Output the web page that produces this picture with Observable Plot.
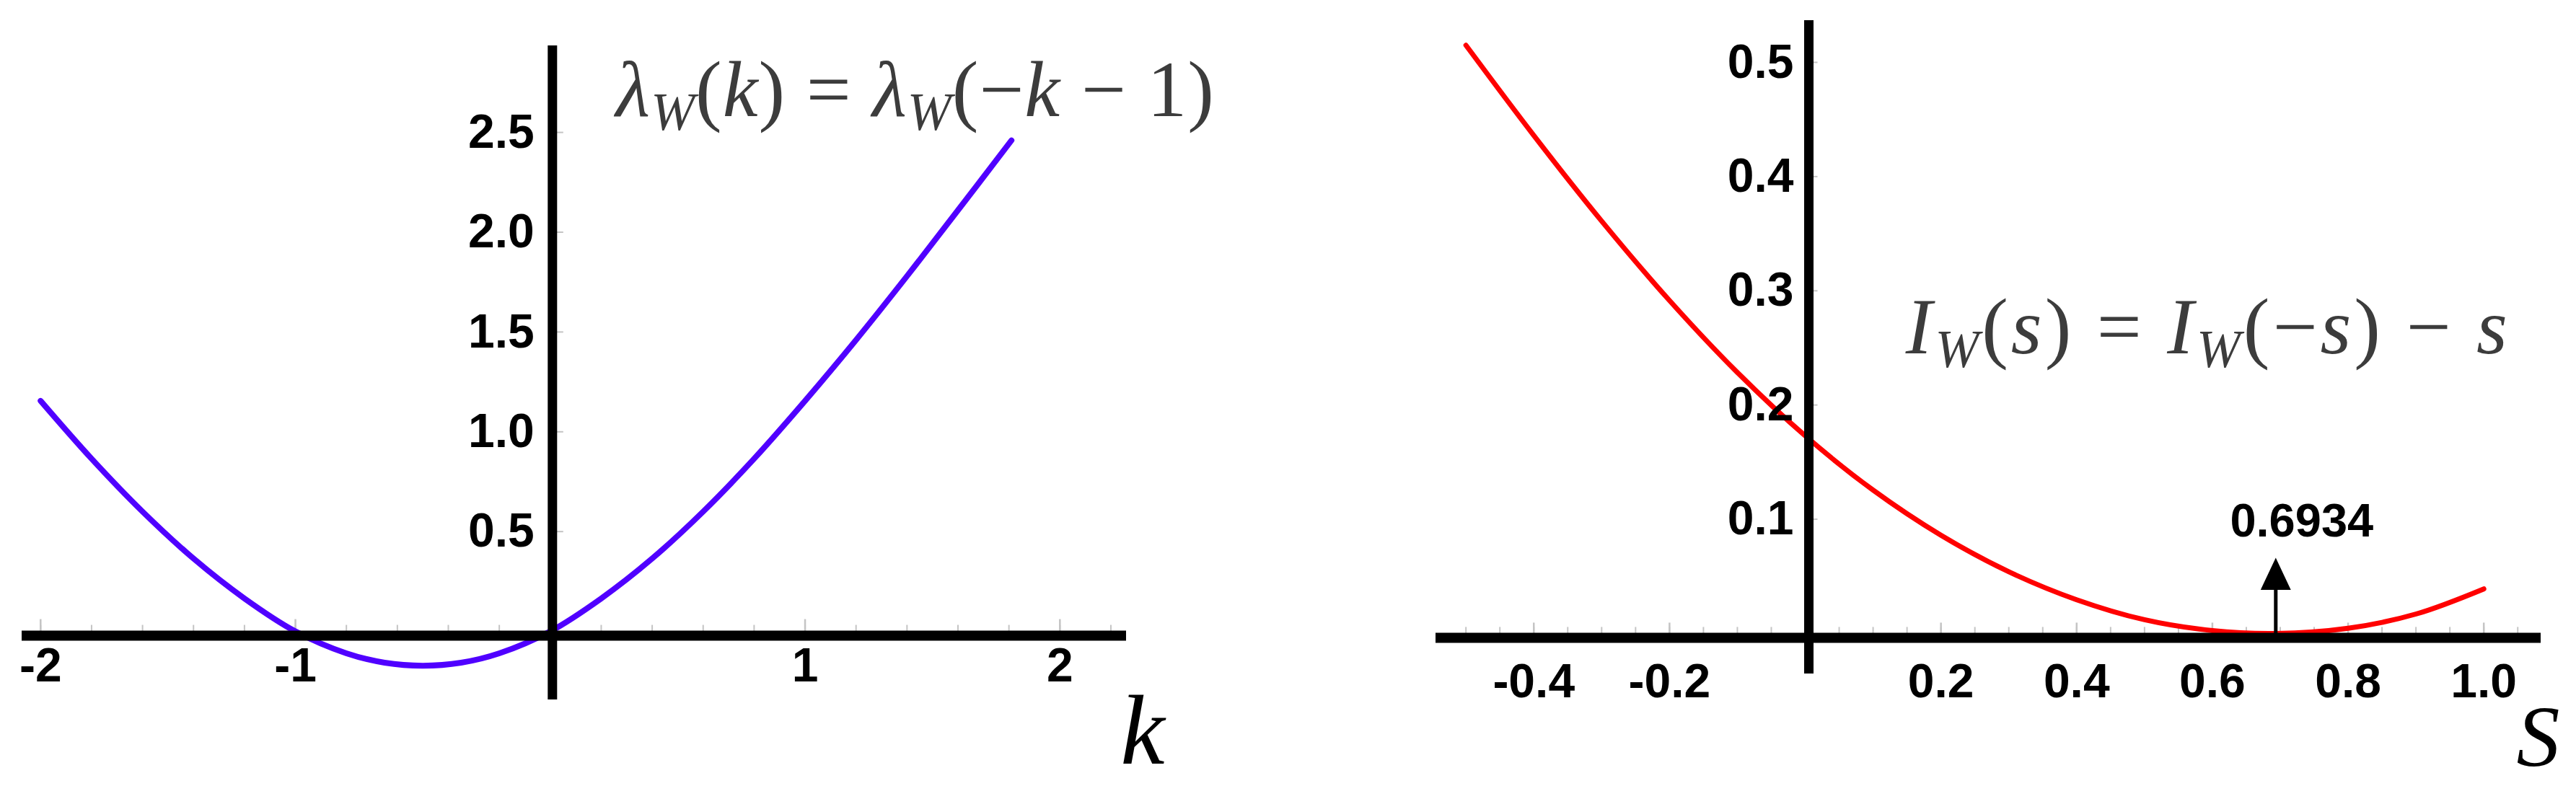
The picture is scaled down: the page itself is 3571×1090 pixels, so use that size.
<!DOCTYPE html>
<html><head><meta charset="utf-8">
<script src="https://cdn.jsdelivr.net/npm/d3@7"></script>
<script src="https://cdn.jsdelivr.net/npm/@observablehq/plot@0.6"></script>
<style>
html,body{margin:0;padding:0;background:#fff;}
#wrap{position:relative;width:3571px;height:1090px;overflow:hidden;background:#fff;}
#left{position:absolute;left:0;top:0;}
#right{position:absolute;left:1700px;top:0;}
svg text{white-space:pre;}
</style></head><body>
<div id="wrap"><div id="left"></div><div id="right"></div></div>
<script>
// ---- Left panel data: lambda_W(k) ----
const kValues      = [-2.0, -1.8, -1.6, -1.4, -1.2, -1.0, -0.8, -0.65, -0.5, -0.35, -0.2, 0.0, 0.2, 0.4, 0.6, 0.8, 1.0, 1.2, 1.4, 1.6, 1.81];
const lambdaValues = [1.155, 0.865, 0.60, 0.365, 0.165, 0.0, -0.11, -0.157, -0.172, -0.157, -0.11, 0.0, 0.165, 0.365, 0.60, 0.865, 1.155, 1.46, 1.78, 2.11, 2.46];
const kTickLabels = [-2, -1, 1, 2];
const lambdaTickLabels = [0.5, 1.0, 1.5, 2.0, 2.5];
const kMinorTicks = [-2, -1.8, -1.6, -1.4, -1.2, -1, -0.8, -0.6, -0.4, -0.2, 0.2, 0.4, 0.6, 0.8, 1, 1.2, 1.4, 1.6, 1.8, 2, 2.2];
const kMajorTicks = [-2, -1, 1, 2];

// ---- Right panel data: I_W(s) ----
const sValues = [-0.5, -0.4, -0.3, -0.2, -0.1, 0.0, 0.1, 0.2, 0.3, 0.4, 0.5, 0.6, 0.6934, 0.8, 0.9, 1.0];
const iValues = [0.515, 0.436, 0.361, 0.2915, 0.2285, 0.173, 0.1255, 0.086, 0.054, 0.0295, 0.012, 0.0025, 0.0, 0.0045, 0.017, 0.039];
const sTickLabels = [-0.4, -0.2, 0.2, 0.4, 0.6, 0.8, 1.0];
const iTickLabels = [0.1, 0.2, 0.3, 0.4, 0.5];
const sMinorTicks = [-0.5,-0.45,-0.4,-0.35,-0.3,-0.25,-0.2,-0.15,-0.1,-0.05,0.05,0.1,0.15,0.2,0.25,0.3,0.35,0.4,0.45,0.5,0.55,0.6,0.65,0.7,0.75,0.8,0.85,0.9,0.95,1.0,1.05];
const sMajorTicks = [-0.4, -0.2, 0.2, 0.4, 0.6, 0.8, 1.0];
const sMinimum = [0.6934];
const sMinimumLabel = "0.6934";

const leftCurve = kValues.map((k, i) => ({k, v: lambdaValues[i]}));
const rightCurve = sValues.map((s, i) => ({s, v: iValues[i]}));

const tickShape = {draw(c, l) { c.moveTo(0, 0); c.lineTo(0, -l); }};
const arrowShape = {draw(c, l) {
  const hl = 36, hw = 17;
  c.moveTo(0, 0); c.lineTo(0, -l + hl);
  c.moveTo(-hw, -l + hl); c.lineTo(0, -l); c.lineTo(hw, -l + hl); c.closePath();
}};

const labelFont = "'Liberation Sans', Arial, sans-serif";
const mathFont = "'Liberation Serif', 'Times New Roman', serif";
const fmt1 = d => (d < 0 ? "-" : "") + Math.abs(d).toFixed(1);
const fmt0 = d => (d < 0 ? "-" : "") + Math.abs(d).toFixed(0);

const leftFormula = "λW(k) = λW(−k − 1)";
const rightFormula = "IW(s) = IW(−s) − s";

const left = Plot.plot({
  width: 1700, height: 1090,
  marginLeft: 30, marginRight: 139, marginTop: 63, marginBottom: 120,
  x: {domain: [-2.073, 2.261], axis: null},
  y: {domain: [-0.343, 2.934], axis: null},
  style: {background: "white", overflow: "visible"},
  marks: [
    Plot.vector(kMinorTicks, {x: d => d, y: 0, length: 9, rotate: 0, anchor: "start", shape: tickShape, stroke: "#c4c4c4", strokeWidth: 2, strokeLinecap: "butt"}),
    Plot.vector(kMajorTicks, {x: d => d, y: 0, length: 17, rotate: 0, anchor: "start", shape: tickShape, stroke: "#c4c4c4", strokeWidth: 2.5, strokeLinecap: "butt"}),
    Plot.vector(lambdaTickLabels, {x: 0, y: d => d, length: 18, rotate: 90, anchor: "start", shape: tickShape, stroke: "#c4c4c4", strokeWidth: 2, strokeLinecap: "butt"}),
    Plot.line(leftCurve, {x: "k", y: "v", stroke: "#5000ff", strokeWidth: 8, curve: "catmull-rom"}),
    Plot.ruleY([0], {dy: 6, stroke: "black", strokeWidth: 14}),
    Plot.ruleX([0], {dx: 3, stroke: "black", strokeWidth: 13}),
    Plot.text(kTickLabels, {x: d => d, y: -0.173, text: fmt0, fontFamily: labelFont, fontWeight: "bold", fontSize: 66, fill: "black", lineAnchor: "middle"}),
    Plot.text(lambdaTickLabels, {x: 0, y: d => d, dx: -22, text: fmt1, textAnchor: "end", fontFamily: labelFont, fontWeight: "bold", fontSize: 66, fill: "black", lineAnchor: "middle"}),
    Plot.text(["k"], {x: 2.324, y: -0.661, text: d => d, fontFamily: mathFont, fontStyle: "italic", fontSize: 138, fill: "black", lineAnchor: "bottom"}),
    Plot.text([leftFormula], {x: 0.257, y: 2.58, text: d => d, textAnchor: "start", lineAnchor: "bottom", fontFamily: mathFont, fontSize: 110, fill: "#3c3c3c"})
  ]
});

const right = Plot.plot({
  width: 1871, height: 1090,
  marginLeft: 290, marginRight: 49, marginTop: 28, marginBottom: 156,
  x: {domain: [-0.5443, 1.0843], axis: null},
  y: {domain: [-0.0354, 0.5366], axis: null},
  style: {background: "white", overflow: "visible"},
  marks: [
    Plot.vector(sMinorTicks, {x: d => d, y: 0, length: 9, rotate: 0, anchor: "start", shape: tickShape, stroke: "#c4c4c4", strokeWidth: 2, strokeLinecap: "butt"}),
    Plot.vector(sMajorTicks, {x: d => d, y: 0, length: 15, rotate: 0, anchor: "start", shape: tickShape, stroke: "#c4c4c4", strokeWidth: 2.5, strokeLinecap: "butt"}),
    Plot.vector(iTickLabels, {x: 0, y: d => d, length: 17, rotate: 90, anchor: "start", shape: tickShape, stroke: "#c4c4c4", strokeWidth: 2, strokeLinecap: "butt"}),
    Plot.line(rightCurve, {x: "s", y: "v", stroke: "#ff0000", strokeWidth: 7, curve: "catmull-rom"}),
    Plot.ruleY([0], {dy: 6, stroke: "black", strokeWidth: 14}),
    Plot.ruleX([0], {dx: 5, stroke: "black", strokeWidth: 13}),
    Plot.vector(sMinimum, {x: d => d, y: 0, length: 99, rotate: 0, anchor: "start", shape: arrowShape, stroke: "black", fill: "black", strokeWidth: 5, strokeLinejoin: "miter", strokeLinecap: "butt"}),
    Plot.text(sMinimum, {x: d => d, y: 0.098, dx: 36, text: () => sMinimumLabel, fontFamily: labelFont, fontWeight: "bold", fontSize: 65, fill: "black", lineAnchor: "middle"}),
    Plot.text(sTickLabels, {x: d => d, y: -0.0423, text: fmt1, fontFamily: labelFont, fontWeight: "bold", fontSize: 66, fill: "black", lineAnchor: "middle"}),
    Plot.text(iTickLabels, {x: 0, y: d => d, dx: -16, text: fmt1, textAnchor: "end", fontFamily: labelFont, fontWeight: "bold", fontSize: 66, fill: "black", lineAnchor: "middle"}),
    Plot.text(["S"], {x: 1.112, y: -0.1162, text: d => d, textAnchor: "end", fontFamily: mathFont, fontStyle: "italic", fontSize: 120, fill: "black", lineAnchor: "bottom"}),
    Plot.text([rightFormula], {x: 0.148, y: 0.245, text: d => d, textAnchor: "start", lineAnchor: "bottom", fontFamily: mathFont, fontSize: 110, fill: "#3c3c3c"})
  ]
});

document.getElementById("left").append(left);
document.getElementById("right").append(right);

function mathify(svg, str, segments, fontSize, spacing) {
  const t = d3.select(svg).selectAll("text").filter(function() { return this.textContent === str; });
  if (t.empty()) return;
  t.text(null);
  if (spacing) t.attr("letter-spacing", spacing);
  let shift = 0;
  const subShift = Math.round(fontSize * 0.17);
  for (const seg of segments) {
    const ts = t.append("tspan").text(seg.t);
    if (seg.it) ts.attr("font-style", "italic");
    const target = seg.sub ? subShift : 0;
    if (target !== shift) { ts.attr("dy", target - shift); shift = target; }
    if (seg.sub) ts.attr("font-size", Math.round(fontSize * 0.66));
  }
}
mathify(left, leftFormula, [
  {t: "λ", it: true}, {t: "W", it: true, sub: true}, {t: "("}, {t: "k", it: true}, {t: ") = "},
  {t: "λ", it: true}, {t: "W", it: true, sub: true}, {t: "(−"}, {t: "k", it: true}, {t: " − 1)"}
], 110, "1px");
mathify(right, rightFormula, [
  {t: "I", it: true}, {t: "W", it: true, sub: true}, {t: "("}, {t: "s", it: true}, {t: ") = "},
  {t: "I", it: true}, {t: "W", it: true, sub: true}, {t: "(−"}, {t: "s", it: true}, {t: ") − "}, {t: "s", it: true}
], 110, "4px");
</script>
</body></html>
